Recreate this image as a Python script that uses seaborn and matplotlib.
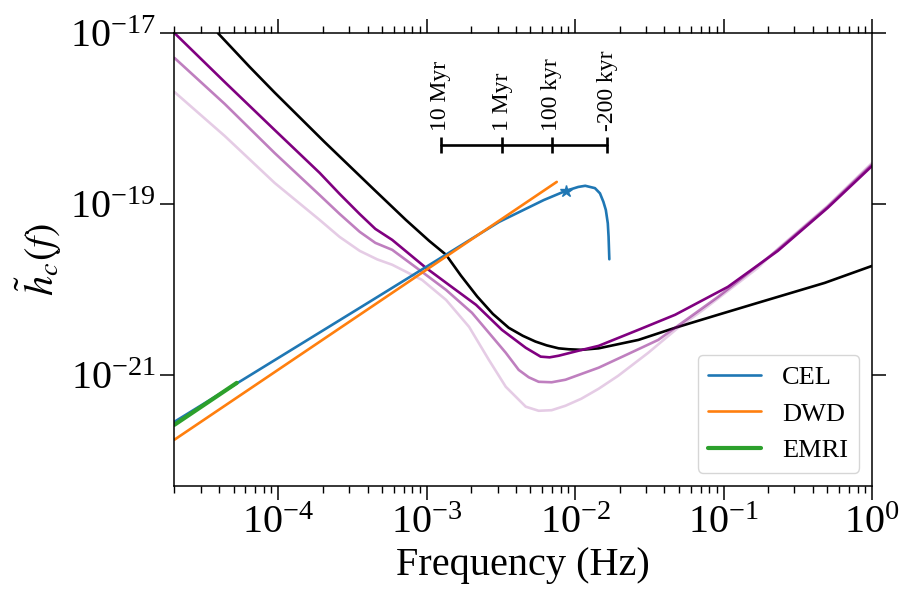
import numpy as np
import pandas as pd
import seaborn as sns
import matplotlib
matplotlib.use("Agg")
import matplotlib.pyplot as plt

sns.set_style("ticks")
plt.rcParams["font.family"] = ["Liberation Serif", "DejaVu Serif"]
plt.rcParams["mathtext.fontset"] = "stix"
for k in ["text.color", "axes.labelcolor", "xtick.color", "ytick.color", "axes.edgecolor"]:
    plt.rcParams[k] = "black"

# sensitivity curve (black)
f_sens = [3.92e-5, 6.43e-5, 9.46e-5, 2.05e-4, 4.44e-4, 7.24e-4, 1.04e-3, 1.35e-3, 1.70e-3,
          2.19e-3, 2.79e-3, 3.57e-3, 4.44e-3, 5.40e-3, 6.43e-3, 7.74e-3, 9.03e-3, 1.10e-2,
          1.44e-2, 2.67e-2, 4.72e-2, 9.18e-2, 0.170, 0.480, 1.0]
h_sens = [1e-17, 4.00e-18, 2.01e-18, 5.31e-19, 1.46e-19, 6.50e-20, 3.69e-20, 2.54e-20, 1.45e-20,
          8.24e-21, 5.16e-21, 3.55e-21, 2.86e-21, 2.45e-21, 2.21e-21, 2.04e-21, 1.99e-21, 1.96e-21,
          2.04e-21, 2.56e-21, 3.55e-21, 5.04e-21, 6.95e-21, 1.19e-20, 1.88e-20]

# purple curves (three variants)
f_p1 = [2.0e-5, 4.36e-5, 9.46e-5, 1.90e-4, 2.59e-4, 3.54e-4, 4.51e-4, 5.86e-4, 9.91e-4,
        1.41e-3, 2.15e-3, 3.21e-3, 4.65e-3, 5.86e-3, 6.73e-3, 7.74e-3, 1.05e-2, 1.44e-2,
        2.67e-2, 4.72e-2, 0.107, 0.232, 0.502, 1.0]
h_p1 = [1e-17, 2.67e-18, 7.33e-19, 2.31e-19, 1.31e-19, 7.60e-20, 5.10e-20, 3.79e-20, 1.78e-20,
        1.13e-20, 6.59e-21, 3.36e-21, 2.07e-21, 1.63e-21, 1.60e-21, 1.67e-21, 1.91e-21, 2.18e-21,
        3.36e-21, 5.04e-21, 1.07e-20, 2.82e-20, 8.97e-20, 2.78e-19]

f_p2 = [2.0e-5, 4.36e-5, 9.46e-5, 1.90e-4, 2.59e-4, 3.54e-4, 4.51e-4, 5.86e-4, 9.31e-4,
        1.35e-3, 2.02e-3, 3.41e-3, 4.17e-3, 4.87e-3, 5.68e-3, 6.95e-3, 8.61e-3, 1.44e-2,
        2.29e-2, 3.63e-2, 5.78e-2, 9.18e-2, 0.139, 0.232, 0.502, 1.0]
h_p2 = [5.11e-18, 1.48e-18, 3.94e-19, 1.27e-19, 7.64e-20, 4.71e-20, 3.50e-20, 2.90e-20, 1.60e-20,
        9.86e-21, 5.31e-21, 1.81e-21, 1.14e-21, 9.35e-22, 8.28e-22, 8.17e-22, 8.75e-22, 1.21e-21,
        1.76e-21, 2.56e-21, 4.58e-21, 8.17e-21, 1.44e-20, 2.90e-20, 9.23e-20, 2.90e-19]

f_p3 = [2.0e-5, 4.36e-5, 9.46e-5, 1.90e-4, 2.59e-4, 3.54e-4, 4.65e-4, 5.86e-4, 9.31e-4,
        1.35e-3, 1.93e-3, 2.62e-3, 3.41e-3, 4.65e-3, 5.68e-3, 6.95e-3, 8.61e-3, 1.10e-2,
        1.44e-2, 1.95e-2, 3.11e-2, 4.94e-2, 7.28e-2, 0.107, 0.170, 0.232, 0.502, 1.0]
h_p3 = [2.04e-18, 6.24e-19, 1.76e-19, 6.50e-20, 4.11e-20, 2.82e-20, 2.24e-20, 1.94e-20, 1.29e-20,
        7.53e-21, 3.64e-21, 1.50e-21, 7.24e-22, 4.23e-22, 3.79e-22, 3.85e-22, 4.34e-22, 5.24e-22,
        6.86e-22, 9.73e-22, 1.81e-21, 3.55e-21, 5.75e-21, 9.59e-21, 1.78e-20, 2.98e-20, 9.48e-20,
        3.02e-19]

# sources
f_cel = [2.0e-5, 4.12e-4, 3.07e-3, 6.15e-3, 8.63e-3, 1.05e-2, 1.17e-2, 1.36e-2, 1.47e-2,
         1.55e-2, 1.61e-2, 1.66e-2, 1.68e-2, 1.70e-2]
h_cel = [2.82e-22, 7.14e-21, 6.15e-20, 1.11e-19, 1.42e-19, 1.58e-19, 1.63e-19, 1.53e-19, 1.33e-19,
         1.06e-19, 8.51e-20, 5.94e-20, 4.15e-20, 2.25e-20]
f_star, h_star = [8.63e-3], [1.42e-19]

f_dwd = [2.0e-5, 7.52e-3]
h_dwd = [1.74e-22, 1.81e-19]

f_emri = [2.0e-5, 5.26e-5]
h_emri = [2.60e-22, 8.05e-22]

# time-to-merger scale
f_time = [1.245e-3, 3.22e-3, 6.98e-3, 1.65e-2]
time_labels = ["10 Myr", "1 Myr", "100 kyr", "-200 kyr"]
h_time = 4.9e-19

fig, ax = plt.subplots(figsize=(9.15, 6.12), dpi=100)
fig.subplots_adjust(left=0.1907, right=0.953, top=0.946, bottom=0.206)

def line(f, h, **kw):
    df = pd.DataFrame({"f": f, "h": h})
    sns.lineplot(data=df, x="f", y="h", ax=ax, sort=False, estimator=None, **kw)

line(f_sens, h_sens, color="black", lw=1.9)
line(f_p3, h_p3, color="purple", alpha=0.2, lw=1.9)
line(f_p2, h_p2, color="purple", alpha=0.5, lw=1.9)
line(f_p1, h_p1, color="purple", lw=1.9)
line(f_cel, h_cel, color="C0", lw=1.9, label="CEL")
line(f_dwd, h_dwd, color="C1", lw=1.9, label="DWD")
line(f_emri, h_emri, color="C2", lw=3.0, label="EMRI")
ax.plot(f_star, h_star, marker="*", color="C0", markersize=9, ls="none")

ax.plot(f_time, [h_time] * len(f_time), color="black", lw=1.9,
        marker="|", markersize=12, markeredgewidth=1.9)
for fx, lab in zip(f_time, time_labels):
    ax.annotate(lab, (fx, h_time), xytext=(0, 10), textcoords="offset points",
                rotation=90, ha="center", va="bottom", fontsize=17)

ax.set_xscale("log")
ax.set_yscale("log")
ax.set_xlim(2e-5, 1)
ax.set_ylim(5e-23, 1e-17)
ax.set_yticks([1e-21, 1e-19, 1e-17])
ax.yaxis.set_minor_locator(matplotlib.ticker.NullLocator())

ax.tick_params(which="major", direction="out", length=10, width=1.1,
               labelsize=29, top=True, right=True)
ax.tick_params(which="minor", direction="out", length=5, width=1.0, top=True)
for s in ax.spines.values():
    s.set_linewidth(1.1)

ax.set_xlabel("Frequency (Hz)", fontsize=29)
ax.set_ylabel(r"$\tilde{h}_c(f)$", fontsize=29)
ax.legend(loc="lower right", fontsize=19)

fig.savefig("out.png", dpi=100)
